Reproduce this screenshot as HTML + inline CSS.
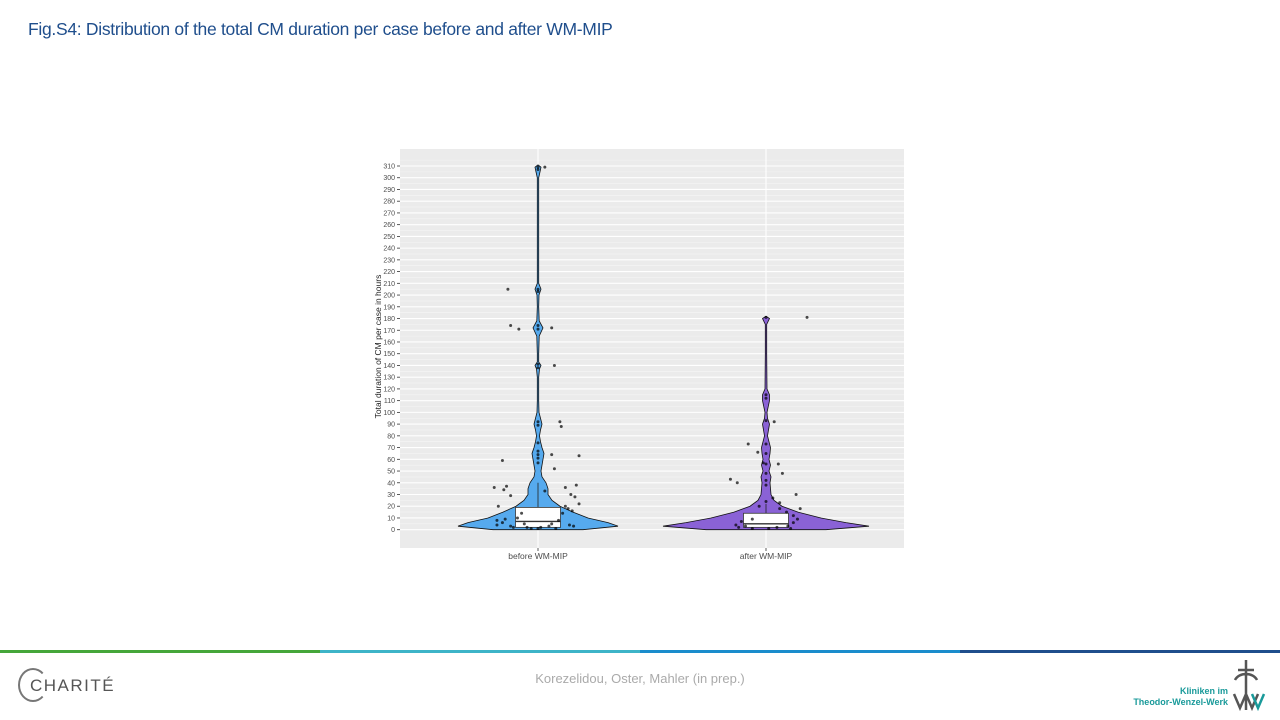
<!DOCTYPE html>
<html><head><meta charset="utf-8"><style>
body{margin:0;width:1280px;height:720px;background:#fff;position:relative;overflow:hidden;font-family:"Liberation Sans",sans-serif}
.title{position:absolute;left:28px;top:19px;font-size:17.5px;color:#1f4e8c;letter-spacing:-0.3px}
.bar{position:absolute;top:650px;height:3px}
.foot{position:absolute;top:671px;left:0;width:1280px;text-align:center;font-size:13px;color:#aaa}
</style></head><body>
<div class="title">Fig.S4: Distribution of the total CM duration per case before and after WM-MIP</div>
<svg id="chart" width="1280" height="720" style="position:absolute;left:0;top:0"></svg>
<div class="bar" style="left:0;width:320px;background:#45a63a"></div>
<div class="bar" style="left:320px;width:320px;background:#3db4c8"></div>
<div class="bar" style="left:640px;width:320px;background:#1a8ccc"></div>
<div class="bar" style="left:960px;width:320px;background:#1f4e8c"></div>
<div class="foot">Korezelidou, Oster, Mahler (in prep.)</div>
<div style="position:absolute;left:18px;top:668px;width:30px;height:34px;border:2px solid #777;border-right-color:transparent;border-radius:50%;box-sizing:border-box"></div>
<div style="position:absolute;left:30px;top:676px;font-size:17px;color:#555;letter-spacing:1.5px">CHARITÉ</div>
<div style="position:absolute;left:1130px;top:686px;width:98px;text-align:right;font-size:9px;font-weight:bold;color:#1a9a9a;line-height:11px">Kliniken im<br>Theodor-Wenzel-Werk</div>
<svg style="position:absolute;left:1232px;top:660px" width="36" height="52"><path d="M14 0v50M6 10h16M3 20c4-8 18-8 22 0M2 34l6 14 6-14 6 14 6-14" stroke="#555" stroke-width="2.5" fill="none"/><path d="M20 34l6 14 6-14" stroke="#1a9a9a" stroke-width="2.5" fill="none"/></svg>
<script>
const categories=["before WM-MIP","after WM-MIP"];
const yTicks=[0,10,20,30,40,50,60,70,80,90,100,110,120,130,140,150,160,170,180,190,200,210,220,230,240,250,260,270,280,290,300,310];
const beforeProfileY=[0,3,6,10,15,20,25,30,35,40,45,50,55,60,65,70,75,80,85,90,95,100,110,130,137,140,143,150,165,172,178,190,200,205,210,220,300,305,309,311];
const beforeProfileW=[45,80,70,50,35,22,14,10,10,8,4,3,4,5,6,4,2.5,1.5,2.5,4,2.5,1,0.7,0.7,1.5,3,0.7,0.7,1.2,5,1.2,0.7,1,3,0.7,0.7,0.7,2,3,0];
const afterProfileY=[0,3,6,10,15,20,25,30,40,45,50,55,60,65,70,75,80,90,95,100,110,115,120,150,175,180,182];
const afterProfileW=[60,103,80,55,32,16,8,5,4,5,3,4.5,3,4,4.5,3,1.5,3.5,1.5,1,3.5,3.5,1,0.7,0.7,3.5,0];
const beforeBox=[2,7,19,0,40];
const afterBox=[2,5,14,0,22];
const beforePoints=[[-.32,36],[-.25,34],[-.2,29],[-.23,37],[-.29,20],[-.3,8],[-.26,6],[-.15,10],[-.12,14],[-.2,3],[-.18,2],[-.1,5],[-.05,1],[.02,2],[.08,3],[.1,5],[.15,8],[.18,14],[.2,20],[.22,18],[.25,16],[.23,4],[.26,3],[.3,22],[.28,38],[.24,30],[.3,63],[.16,92],[.17,88],[.05,33],[.12,52],[.1,64],[-.26,59],[-.2,174],[-.14,171],[.1,172],[.12,140],[-.22,205],[.05,309],[.2,36],[.27,28],[-.08,2],[.0,1],[.13,1],[-.3,4],[-.24,9],
[0,309],[0,307],[0,205],[0,203],[0,174],[0,171],[0,141],[0,138],[0,92],[0,89],[0,74],[0,67],[0,64],[0,61],[0,57]];
const afterPoints=[[-.26,43],[-.21,40],[-.13,73],[-.06,66],[-.2,2],[-.22,4],[-.18,7],[-.1,9],[-.05,20],[.0,24],[.05,27],[.1,18],[.15,15],[.2,12],[.22,30],[.25,18],[.2,6],[.16,3],[.18,1],[.08,2],[-.1,1],[-.15,3],[.09,56],[.12,48],[.1,23],[.23,9],[.3,181],[.02,1],[.06,92],[-.02,57],
[0,181],[0,115],[0,112],[0,93],[0,73],[0,65],[0,56],[0,48],[0,42],[0,38]];
const NS="http://www.w3.org/2000/svg";
const svg=document.getElementById('chart');
const P={l:400,r:904,t:149,b:548};
const y=v=>529.7-v*(363.7/310);
const x=i=>538+i*228;
const bandPx=228;
function mk(t,a){const e=document.createElementNS(NS,t);for(const k in a)e.setAttribute(k,a[k]);svg.appendChild(e);return e;}
let bg=mk('rect',{x:P.l,y:P.t,width:P.r-P.l,height:P.b-P.t,fill:'#ebebeb'});


yTicks.forEach(t=>{
 let m=mk('line',{x1:P.l,x2:P.r,y1:y(t+5),y2:y(t+5),stroke:'#f5f5f5','stroke-width':0.6});
 
 let g=mk('line',{x1:P.l,x2:P.r,y1:y(t),y2:y(t),stroke:'#fff','stroke-width':1.1});
 
 let tk=mk('line',{x1:P.l-3,x2:P.l,y1:y(t),y2:y(t),stroke:'#333','stroke-width':0.8});
 
 let lb=mk('text',{x:P.l-5,y:y(t)+2.5,'text-anchor':'end','font-size':7,fill:'#4d4d4d'});
 lb.textContent=t;
 
});
categories.forEach((c,i)=>{
 let g=mk('line',{x1:x(i),x2:x(i),y1:P.t,y2:P.b,stroke:'#fff','stroke-width':1.1});
 
 let tk=mk('line',{x1:x(i),x2:x(i),y1:P.b,y2:P.b+3,stroke:'#333','stroke-width':0.8});
 
 let lb=mk('text',{x:x(i),y:P.b+11,'text-anchor':'middle','font-size':8.5,fill:'#4d4d4d'});
 lb.textContent=c;
 
});
let yl=mk('text',{transform:`translate(381,${(P.t+P.b)/2-2}) rotate(-90)`,'text-anchor':'middle','font-size':8.5,fill:'#222'});
yl.textContent='Total duration of CM per case in hours';

function violin(i,Y,W,col,name){
 let r=[],l=[];
 Y.forEach((v,k)=>{r.push(`${x(i)+W[k]},${y(v)}`);l.unshift(`${x(i)-W[k]},${y(v)}`);});
 let p=mk('polygon',{points:r.concat(l).join(' '),fill:col,stroke:'#111','stroke-width':0.8});
 
}
violin(0,beforeProfileY,beforeProfileW,'#56aaee','violin-before');
violin(1,afterProfileY,afterProfileW,'#8a62d6','violin-after');
function box(i,b,name){
 const hw=22.5;
 let w=mk('line',{x1:x(i),x2:x(i),y1:y(b[2]),y2:y(b[4]),stroke:'#222','stroke-width':0.8});
 
 let rc=mk('rect',{x:x(i)-hw,y:y(b[2]),width:hw*2,height:y(b[0])-y(b[2]),fill:'#fff',stroke:'#333','stroke-width':0.8});
 
 let m=mk('line',{x1:x(i)-hw,x2:x(i)+hw,y1:y(b[1]),y2:y(b[1]),stroke:'#333','stroke-width':1.4});
 
}
box(0,beforeBox,'box-before');
box(1,afterBox,'box-after');
function pts(i,arr,name){
 arr.forEach(p=>{
  let c=mk('circle',{cx:x(i)+p[0]*bandPx*0.6,cy:y(p[1]),r:1.5,fill:'#000','fill-opacity':0.7});
  
 });
}
pts(0,beforePoints,'point-before');
pts(1,afterPoints,'point-after');
</script>
</body></html>
